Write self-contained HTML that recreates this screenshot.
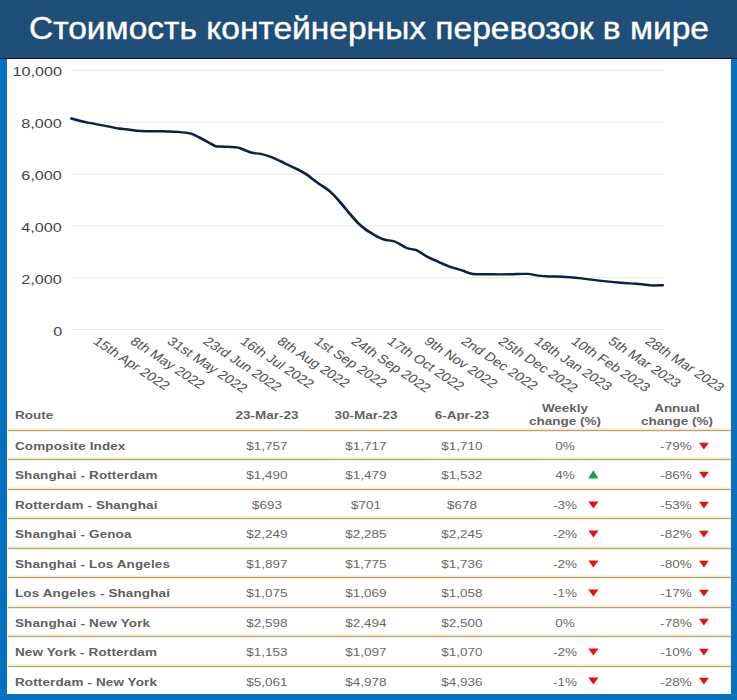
<!DOCTYPE html>
<html><head><meta charset="utf-8">
<style>
html,body{margin:0;padding:0;}
body{width:737px;height:700px;overflow:hidden;position:relative;background:#fff;font-family:"Liberation Sans",sans-serif;}
.a{position:absolute;white-space:nowrap;line-height:1;}
.hdr{left:0;top:0;width:737px;height:58px;background:#1f4e79;}
.blk{left:0;top:58px;width:737px;height:1px;background:#0a0f18;}
.bl{left:0;top:59px;width:7px;height:641px;background:#0870c0;}
.br{left:731px;top:59px;width:6px;height:641px;background:#0870c0;}
.bb{left:0;top:694px;width:737px;height:6px;background:#0870c0;}
.title{color:#fff;font-size:32px;transform-origin:0 0;-webkit-text-stroke:0.4px #fff;}
.yl{font-size:13.1px;color:#444;transform-origin:100% 0;text-align:right;}
.xl{font-size:12.2px;color:#505050;transform-origin:0 0;}
.th{font-size:11px;font-weight:bold;color:#626262;}
.td{font-size:11px;color:#686868;}
.rt{font-size:11px;font-weight:bold;color:#606060;letter-spacing:0.1px;}
.ln{height:1px;background:#b5a97c;left:8px;width:723px;box-shadow:0 -1px 0 #efe5c8,0 -2px 0 #faf5e2,0 1px 0 #f3ecd6;}
</style></head><body>

<div class="a hdr"></div><div class="a blk"></div>
<div class="a title" id="title" style="left:29px;top:12px;transform:scaleX(1.048)">Стоимость контейнерных перевозок в мире</div>
<svg class="a" style="left:0;top:0" width="737" height="400" viewBox="0 0 737 400"><rect x="71.5" y="69.8" width="592.2" height="1" fill="#e6e6e6"/><rect x="71.5" y="121.7" width="592.2" height="1" fill="#e6e6e6"/><rect x="71.5" y="173.6" width="592.2" height="1" fill="#e6e6e6"/><rect x="71.5" y="225.4" width="592.2" height="1" fill="#e6e6e6"/><rect x="71.5" y="277.3" width="592.2" height="1" fill="#e6e6e6"/><rect x="71.5" y="329.1" width="592.2" height="1" fill="#e6e6e6"/><g transform="scale(1.226,1)"><path d="M58.3 118.5 C60.4 119.2 66.3 121.2 70.7 122.4 C75.1 123.6 80.8 124.6 84.9 125.6 C89.0 126.6 92.3 127.5 95.5 128.2 C98.8 128.8 101.2 129.0 104.4 129.5 C107.7 130.0 110.3 130.7 115.0 131.0 C119.7 131.3 127.7 131.2 132.7 131.3 C137.7 131.5 141.3 131.5 145.1 131.9 C148.9 132.3 152.8 132.8 155.7 133.7 C158.7 134.6 159.6 135.6 162.8 137.6 C166.1 139.6 172.2 144.3 175.2 145.8 C178.2 147.3 177.7 146.2 180.7 146.5 C183.6 146.8 190.1 146.9 193.1 147.4 C196.0 147.9 196.3 148.6 198.4 149.5 C200.4 150.4 203.1 152.1 205.5 152.8 C207.8 153.5 209.9 153.2 212.6 153.9 C215.2 154.6 218.1 155.6 221.4 157.1 C224.6 158.6 228.5 161.1 232.1 163.2 C235.6 165.2 239.7 167.6 242.7 169.4 C245.6 171.2 247.1 172.2 249.8 174.3 C252.4 176.5 255.3 179.4 258.6 182.3 C261.8 185.2 266.0 188.2 269.2 191.5 C272.3 194.8 274.6 198.2 277.3 202.0 C280.0 205.8 283.0 210.5 285.5 214.0 C287.9 217.5 290.0 220.5 292.0 223.0 C294.0 225.5 295.8 227.2 297.7 229.0 C299.6 230.8 301.4 232.0 303.4 233.5 C305.5 235.0 308.0 236.9 310.0 238.0 C311.9 239.1 312.8 239.4 314.8 240.0 C316.8 240.6 319.1 240.2 321.9 241.5 C324.8 242.8 328.8 246.6 331.7 248.0 C334.7 249.4 336.8 248.8 339.6 250.2 C342.4 251.6 345.6 254.8 348.5 256.7 C351.5 258.6 354.5 260.1 357.4 261.7 C360.4 263.3 363.0 264.9 366.2 266.4 C369.5 267.8 373.6 269.1 376.8 270.4 C380.1 271.7 381.9 273.4 385.7 274.0 C389.6 274.6 394.9 274.2 399.9 274.3 C405.0 274.4 410.9 274.4 416.0 274.3 C421.0 274.2 426.3 273.7 430.2 273.9 C434.0 274.1 436.0 275.2 439.0 275.6 C441.9 276.0 444.6 276.3 447.9 276.5 C451.1 276.7 454.1 276.4 458.5 276.7 C462.9 277.0 469.7 277.8 474.4 278.4 C479.1 279.0 481.5 279.7 486.8 280.4 C492.1 281.1 501.0 282.2 506.3 282.8 C511.6 283.4 514.5 283.3 518.7 283.7 C522.8 284.1 527.4 285.1 531.1 285.4 C534.7 285.6 538.9 285.2 540.5 285.2" fill="none" stroke="#0e2142" stroke-width="2.45" stroke-linejoin="round" stroke-linecap="round"/></g></svg>
<div class="a yl" style="right:675.2px;top:65.4px;transform:scaleX(1.235)">10,000</div>
<div class="a yl" style="right:675.2px;top:117.3px;transform:scaleX(1.235)">8,000</div>
<div class="a yl" style="right:675.2px;top:169.2px;transform:scaleX(1.235)">6,000</div>
<div class="a yl" style="right:675.2px;top:221.0px;transform:scaleX(1.235)">4,000</div>
<div class="a yl" style="right:675.2px;top:272.9px;transform:scaleX(1.235)">2,000</div>
<div class="a yl" style="right:675.2px;top:324.7px;transform:scaleX(1.235)">0</div>
<div class="a xl" style="left:100.0px;top:334.7px;transform:scaleX(1.226) rotate(39deg)">15th Apr 2022</div>
<div class="a xl" style="left:136.8px;top:334.7px;transform:scaleX(1.226) rotate(39deg)">8th May 2022</div>
<div class="a xl" style="left:173.6px;top:334.7px;transform:scaleX(1.226) rotate(39deg)">31st May 2022</div>
<div class="a xl" style="left:210.4px;top:334.7px;transform:scaleX(1.226) rotate(39deg)">23rd Jun 2022</div>
<div class="a xl" style="left:247.1px;top:334.7px;transform:scaleX(1.226) rotate(39deg)">16th Jul 2022</div>
<div class="a xl" style="left:283.9px;top:334.7px;transform:scaleX(1.226) rotate(39deg)">8th Aug 2022</div>
<div class="a xl" style="left:320.7px;top:334.7px;transform:scaleX(1.226) rotate(39deg)">1st Sep 2022</div>
<div class="a xl" style="left:357.5px;top:334.7px;transform:scaleX(1.226) rotate(39deg)">24th Sep 2022</div>
<div class="a xl" style="left:394.3px;top:334.7px;transform:scaleX(1.226) rotate(39deg)">17th Oct 2022</div>
<div class="a xl" style="left:431.1px;top:334.7px;transform:scaleX(1.226) rotate(39deg)">9th Nov 2022</div>
<div class="a xl" style="left:467.9px;top:334.7px;transform:scaleX(1.226) rotate(39deg)">2nd Dec 2022</div>
<div class="a xl" style="left:504.7px;top:334.7px;transform:scaleX(1.226) rotate(39deg)">25th Dec 2022</div>
<div class="a xl" style="left:541.4px;top:334.7px;transform:scaleX(1.226) rotate(39deg)">18th Jan 2023</div>
<div class="a xl" style="left:578.2px;top:334.7px;transform:scaleX(1.226) rotate(39deg)">10th Feb 2023</div>
<div class="a xl" style="left:615.0px;top:334.7px;transform:scaleX(1.226) rotate(39deg)">5th Mar 2023</div>
<div class="a xl" style="left:651.8px;top:334.7px;transform:scaleX(1.226) rotate(39deg)">28th Mar 2023</div>
<div class="a ln" style="top:429.8px"></div>
<div class="a ln" style="top:459.3px"></div>
<div class="a ln" style="top:488.7px"></div>
<div class="a ln" style="top:518.2px"></div>
<div class="a ln" style="top:547.7px"></div>
<div class="a ln" style="top:577.1px"></div>
<div class="a ln" style="top:606.6px"></div>
<div class="a ln" style="top:636.1px"></div>
<div class="a ln" style="top:665.6px"></div>
<div class="a th" style="left:15.2px;top:409.5px;transform:scaleX(1.226);transform-origin:0 0">Route</div>
<div class="a th" style="left:66.6px;width:400px;text-align:center;top:409.5px;transform:scaleX(1.226);transform-origin:50% 0">23-Mar-23</div>
<div class="a th" style="left:166.1px;width:400px;text-align:center;top:409.5px;transform:scaleX(1.226);transform-origin:50% 0">30-Mar-23</div>
<div class="a th" style="left:261.9px;width:400px;text-align:center;top:409.5px;transform:scaleX(1.226);transform-origin:50% 0">6-Apr-23</div>
<div class="a th" style="left:365.4px;width:400px;text-align:center;top:401.6px;line-height:13px;transform:scaleX(1.226);transform-origin:50% 0">Weekly<br>change (%)</div>
<div class="a th" style="left:476.5px;width:400px;text-align:center;top:401.6px;line-height:13px;transform:scaleX(1.226);transform-origin:50% 0">Annual<br>change (%)</div>
<div class="a rt" style="left:15.2px;top:440.9px;transform:scaleX(1.226);transform-origin:0 0">Composite Index</div>
<div class="a td" style="left:66.5px;width:400px;text-align:center;top:440.9px;transform:scaleX(1.226);transform-origin:50% 0">$1,757</div>
<div class="a td" style="left:165.8px;width:400px;text-align:center;top:440.9px;transform:scaleX(1.226);transform-origin:50% 0">$1,717</div>
<div class="a td" style="left:261.8px;width:400px;text-align:center;top:440.9px;transform:scaleX(1.226);transform-origin:50% 0">$1,710</div>
<div class="a td" style="left:365.2px;width:400px;text-align:center;top:440.9px;transform:scaleX(1.226);transform-origin:50% 0">0%</div>
<div class="a td" style="left:476.1px;width:400px;text-align:center;top:440.9px;transform:scaleX(1.226);transform-origin:50% 0">-79%</div>
<svg class="a" style="left:697px;top:440.6px" width="14" height="12"><path d="M2.0 1.7 L11.8 1.7 L6.9 8.4Z" fill="#e41014"/></svg>
<div class="a rt" style="left:15.2px;top:470.4px;transform:scaleX(1.226);transform-origin:0 0">Shanghai - Rotterdam</div>
<div class="a td" style="left:66.5px;width:400px;text-align:center;top:470.4px;transform:scaleX(1.226);transform-origin:50% 0">$1,490</div>
<div class="a td" style="left:165.8px;width:400px;text-align:center;top:470.4px;transform:scaleX(1.226);transform-origin:50% 0">$1,479</div>
<div class="a td" style="left:261.8px;width:400px;text-align:center;top:470.4px;transform:scaleX(1.226);transform-origin:50% 0">$1,532</div>
<div class="a td" style="left:365.2px;width:400px;text-align:center;top:470.4px;transform:scaleX(1.226);transform-origin:50% 0">4%</div>
<div class="a td" style="left:476.1px;width:400px;text-align:center;top:470.4px;transform:scaleX(1.226);transform-origin:50% 0">-86%</div>
<svg class="a" style="left:586px;top:469.1px" width="14" height="12"><path d="M7.4 1.2 L12.5 9.5 L2.1 9.5Z" fill="#1f9e4a"/></svg>
<svg class="a" style="left:697px;top:470.1px" width="14" height="12"><path d="M2.0 1.7 L11.8 1.7 L6.9 8.4Z" fill="#e41014"/></svg>
<div class="a rt" style="left:15.2px;top:499.8px;transform:scaleX(1.226);transform-origin:0 0">Rotterdam - Shanghai</div>
<div class="a td" style="left:66.5px;width:400px;text-align:center;top:499.8px;transform:scaleX(1.226);transform-origin:50% 0">$693</div>
<div class="a td" style="left:165.8px;width:400px;text-align:center;top:499.8px;transform:scaleX(1.226);transform-origin:50% 0">$701</div>
<div class="a td" style="left:261.8px;width:400px;text-align:center;top:499.8px;transform:scaleX(1.226);transform-origin:50% 0">$678</div>
<div class="a td" style="left:365.2px;width:400px;text-align:center;top:499.8px;transform:scaleX(1.226);transform-origin:50% 0">-3%</div>
<div class="a td" style="left:476.1px;width:400px;text-align:center;top:499.8px;transform:scaleX(1.226);transform-origin:50% 0">-53%</div>
<svg class="a" style="left:586px;top:499.5px" width="14" height="12"><path d="M2.3 1.6 L12.5 1.6 L7.4 8.5Z" fill="#e41014"/></svg>
<svg class="a" style="left:697px;top:499.5px" width="14" height="12"><path d="M2.0 1.7 L11.8 1.7 L6.9 8.4Z" fill="#e41014"/></svg>
<div class="a rt" style="left:15.2px;top:529.3px;transform:scaleX(1.226);transform-origin:0 0">Shanghai - Genoa</div>
<div class="a td" style="left:66.5px;width:400px;text-align:center;top:529.3px;transform:scaleX(1.226);transform-origin:50% 0">$2,249</div>
<div class="a td" style="left:165.8px;width:400px;text-align:center;top:529.3px;transform:scaleX(1.226);transform-origin:50% 0">$2,285</div>
<div class="a td" style="left:261.8px;width:400px;text-align:center;top:529.3px;transform:scaleX(1.226);transform-origin:50% 0">$2,245</div>
<div class="a td" style="left:365.2px;width:400px;text-align:center;top:529.3px;transform:scaleX(1.226);transform-origin:50% 0">-2%</div>
<div class="a td" style="left:476.1px;width:400px;text-align:center;top:529.3px;transform:scaleX(1.226);transform-origin:50% 0">-82%</div>
<svg class="a" style="left:586px;top:529.0px" width="14" height="12"><path d="M2.3 1.6 L12.5 1.6 L7.4 8.5Z" fill="#e41014"/></svg>
<svg class="a" style="left:697px;top:529.0px" width="14" height="12"><path d="M2.0 1.7 L11.8 1.7 L6.9 8.4Z" fill="#e41014"/></svg>
<div class="a rt" style="left:15.2px;top:558.8px;transform:scaleX(1.226);transform-origin:0 0">Shanghai - Los Angeles</div>
<div class="a td" style="left:66.5px;width:400px;text-align:center;top:558.8px;transform:scaleX(1.226);transform-origin:50% 0">$1,897</div>
<div class="a td" style="left:165.8px;width:400px;text-align:center;top:558.8px;transform:scaleX(1.226);transform-origin:50% 0">$1,775</div>
<div class="a td" style="left:261.8px;width:400px;text-align:center;top:558.8px;transform:scaleX(1.226);transform-origin:50% 0">$1,736</div>
<div class="a td" style="left:365.2px;width:400px;text-align:center;top:558.8px;transform:scaleX(1.226);transform-origin:50% 0">-2%</div>
<div class="a td" style="left:476.1px;width:400px;text-align:center;top:558.8px;transform:scaleX(1.226);transform-origin:50% 0">-80%</div>
<svg class="a" style="left:586px;top:558.5px" width="14" height="12"><path d="M2.3 1.6 L12.5 1.6 L7.4 8.5Z" fill="#e41014"/></svg>
<svg class="a" style="left:697px;top:558.5px" width="14" height="12"><path d="M2.0 1.7 L11.8 1.7 L6.9 8.4Z" fill="#e41014"/></svg>
<div class="a rt" style="left:15.2px;top:588.2px;transform:scaleX(1.226);transform-origin:0 0">Los Angeles - Shanghai</div>
<div class="a td" style="left:66.5px;width:400px;text-align:center;top:588.2px;transform:scaleX(1.226);transform-origin:50% 0">$1,075</div>
<div class="a td" style="left:165.8px;width:400px;text-align:center;top:588.2px;transform:scaleX(1.226);transform-origin:50% 0">$1,069</div>
<div class="a td" style="left:261.8px;width:400px;text-align:center;top:588.2px;transform:scaleX(1.226);transform-origin:50% 0">$1,058</div>
<div class="a td" style="left:365.2px;width:400px;text-align:center;top:588.2px;transform:scaleX(1.226);transform-origin:50% 0">-1%</div>
<div class="a td" style="left:476.1px;width:400px;text-align:center;top:588.2px;transform:scaleX(1.226);transform-origin:50% 0">-17%</div>
<svg class="a" style="left:586px;top:588.0px" width="14" height="12"><path d="M2.3 1.6 L12.5 1.6 L7.4 8.5Z" fill="#e41014"/></svg>
<svg class="a" style="left:697px;top:588.0px" width="14" height="12"><path d="M2.0 1.7 L11.8 1.7 L6.9 8.4Z" fill="#e41014"/></svg>
<div class="a rt" style="left:15.2px;top:617.7px;transform:scaleX(1.226);transform-origin:0 0">Shanghai - New York</div>
<div class="a td" style="left:66.5px;width:400px;text-align:center;top:617.7px;transform:scaleX(1.226);transform-origin:50% 0">$2,598</div>
<div class="a td" style="left:165.8px;width:400px;text-align:center;top:617.7px;transform:scaleX(1.226);transform-origin:50% 0">$2,494</div>
<div class="a td" style="left:261.8px;width:400px;text-align:center;top:617.7px;transform:scaleX(1.226);transform-origin:50% 0">$2,500</div>
<div class="a td" style="left:365.2px;width:400px;text-align:center;top:617.7px;transform:scaleX(1.226);transform-origin:50% 0">0%</div>
<div class="a td" style="left:476.1px;width:400px;text-align:center;top:617.7px;transform:scaleX(1.226);transform-origin:50% 0">-78%</div>
<svg class="a" style="left:697px;top:617.4px" width="14" height="12"><path d="M2.0 1.7 L11.8 1.7 L6.9 8.4Z" fill="#e41014"/></svg>
<div class="a rt" style="left:15.2px;top:647.2px;transform:scaleX(1.226);transform-origin:0 0">New York - Rotterdam</div>
<div class="a td" style="left:66.5px;width:400px;text-align:center;top:647.2px;transform:scaleX(1.226);transform-origin:50% 0">$1,153</div>
<div class="a td" style="left:165.8px;width:400px;text-align:center;top:647.2px;transform:scaleX(1.226);transform-origin:50% 0">$1,097</div>
<div class="a td" style="left:261.8px;width:400px;text-align:center;top:647.2px;transform:scaleX(1.226);transform-origin:50% 0">$1,070</div>
<div class="a td" style="left:365.2px;width:400px;text-align:center;top:647.2px;transform:scaleX(1.226);transform-origin:50% 0">-2%</div>
<div class="a td" style="left:476.1px;width:400px;text-align:center;top:647.2px;transform:scaleX(1.226);transform-origin:50% 0">-10%</div>
<svg class="a" style="left:586px;top:646.9px" width="14" height="12"><path d="M2.3 1.6 L12.5 1.6 L7.4 8.5Z" fill="#e41014"/></svg>
<svg class="a" style="left:697px;top:646.9px" width="14" height="12"><path d="M2.0 1.7 L11.8 1.7 L6.9 8.4Z" fill="#e41014"/></svg>
<div class="a rt" style="left:15.2px;top:676.7px;transform:scaleX(1.226);transform-origin:0 0">Rotterdam - New York</div>
<div class="a td" style="left:66.5px;width:400px;text-align:center;top:676.7px;transform:scaleX(1.226);transform-origin:50% 0">$5,061</div>
<div class="a td" style="left:165.8px;width:400px;text-align:center;top:676.7px;transform:scaleX(1.226);transform-origin:50% 0">$4,978</div>
<div class="a td" style="left:261.8px;width:400px;text-align:center;top:676.7px;transform:scaleX(1.226);transform-origin:50% 0">$4,936</div>
<div class="a td" style="left:365.2px;width:400px;text-align:center;top:676.7px;transform:scaleX(1.226);transform-origin:50% 0">-1%</div>
<div class="a td" style="left:476.1px;width:400px;text-align:center;top:676.7px;transform:scaleX(1.226);transform-origin:50% 0">-28%</div>
<svg class="a" style="left:586px;top:676.4px" width="14" height="12"><path d="M2.3 1.6 L12.5 1.6 L7.4 8.5Z" fill="#e41014"/></svg>
<svg class="a" style="left:697px;top:676.4px" width="14" height="12"><path d="M2.0 1.7 L11.8 1.7 L6.9 8.4Z" fill="#e41014"/></svg>
<div class="a bl"></div><div class="a br"></div><div class="a bb"></div>
</body></html>
